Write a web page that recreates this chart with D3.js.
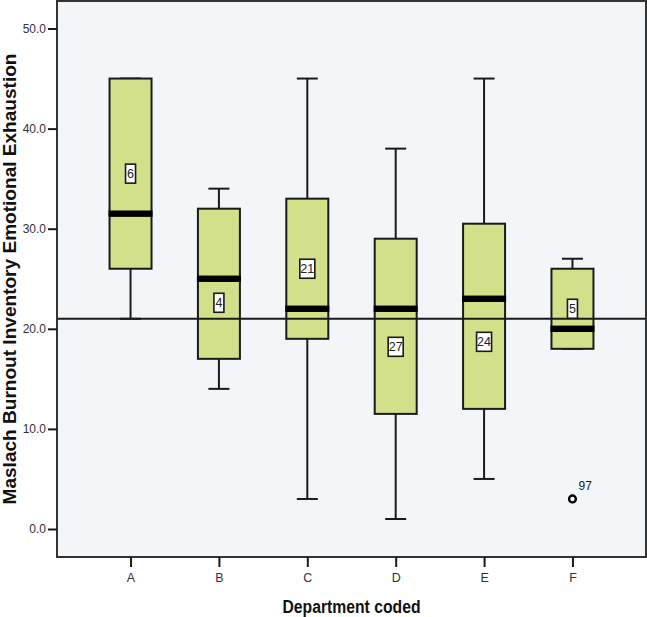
<!DOCTYPE html>
<html>
<head>
<meta charset="utf-8">
<script src="https://cdn.jsdelivr.net/npm/d3@7"></script>
<style>
  html, body { margin: 0; padding: 0; background: #ffffff; }
  svg { display: block; }
</style>
</head>
<body>
<svg id="chart" width="647" height="617"></svg>
<script>
// ---- data ----
const categories   = ["A", "B", "C", "D", "E", "F"];
const whiskerLow   = [21, 14, 3, 1, 5, 18];
const quartile1    = [26, 17, 19, 11.5, 12, 18];
const medians      = [31.5, 25, 22, 22, 23, 20];
const quartile3    = [45, 32, 33, 29, 30.5, 26];
const whiskerHigh  = [45, 34, 45, 38, 45, 27];
const countLabels  = ["6", "4", "21", "27", "24", "5"];
const countLabelAt = [35.5, 22.6, 26, 18.2, 18.7, 22];
const outlierCats   = ["F"];
const outlierValues = [3];
const outlierLabels = ["97"];
const referenceValue = 21;
const yTickValues = [0, 10, 20, 30, 40, 50];
const xTitle = "Department coded";
const yTitle = "Maslach Burnout Inventory Emotional Exhaustion";

(function () {
// ---- layout ----
const svg = d3.select("#chart");
const pLeft = 57, pRight = 646, pTop = 1, pBottom = 557;
const boxFill = "#d3e08a";
const ink = "#1a1a1a";
const font = "Liberation Sans, Arial, sans-serif";

const x = d3.scalePoint().domain(categories).range([pLeft, pRight]).padding(0.832);
const y = d3.scaleLinear().domain([0, 50]).range([529, 28.5]);
const boxW = x.step() * 0.475;
const capW = 21;

// plot background
svg.append("rect")
  .attr("x", pLeft).attr("y", pTop)
  .attr("width", pRight - pLeft).attr("height", pBottom - pTop)
  .attr("fill", "#f2f6f8");

const rows = categories.map((c, i) => ({
  c, lo: whiskerLow[i], q1: quartile1[i], med: medians[i],
  q3: quartile3[i], hi: whiskerHigh[i], n: countLabels[i], at: countLabelAt[i]
}));

const g = svg.append("g");

// whiskers
rows.forEach(r => {
  const cx = x(r.c);
  g.append("line").attr("x1", cx).attr("x2", cx)
    .attr("y1", y(r.q3)).attr("y2", y(r.hi))
    .attr("stroke", ink).attr("stroke-width", 2);
  g.append("line").attr("x1", cx).attr("x2", cx)
    .attr("y1", y(r.q1)).attr("y2", y(r.lo))
    .attr("stroke", ink).attr("stroke-width", 2);
  g.append("line").attr("x1", cx - capW / 2).attr("x2", cx + capW / 2)
    .attr("y1", y(r.hi)).attr("y2", y(r.hi))
    .attr("stroke", ink).attr("stroke-width", 2);
  g.append("line").attr("x1", cx - capW / 2).attr("x2", cx + capW / 2)
    .attr("y1", y(r.lo)).attr("y2", y(r.lo))
    .attr("stroke", ink).attr("stroke-width", 2);
});

// boxes
g.selectAll("rect.box").data(rows).join("rect")
  .attr("class", "box")
  .attr("x", d => x(d.c) - boxW / 2)
  .attr("y", d => y(d.q3))
  .attr("width", boxW)
  .attr("height", d => y(d.q1) - y(d.q3))
  .attr("fill", boxFill)
  .attr("stroke", ink)
  .attr("stroke-width", 2);

// medians
g.selectAll("rect.med").data(rows).join("rect")
  .attr("class", "med")
  .attr("x", d => x(d.c) - boxW / 2 - 1)
  .attr("y", d => y(d.med) - 3.2)
  .attr("width", boxW + 2)
  .attr("height", 6.4)
  .attr("fill", "#000");

// reference line
svg.append("line")
  .attr("x1", pLeft).attr("x2", pRight)
  .attr("y1", y(referenceValue)).attr("y2", y(referenceValue))
  .attr("stroke", ink).attr("stroke-width", 2);

// count labels
rows.forEach(r => {
  const cx = x(r.c), cy = y(r.at);
  const w = r.n.length > 1 ? 15 : 10;
  svg.append("rect")
    .attr("x", cx - w / 2).attr("y", cy - 9.5)
    .attr("width", w).attr("height", 19)
    .attr("fill", "#ffffff").attr("stroke", ink).attr("stroke-width", 1.6);
  svg.append("text")
    .attr("x", cx).attr("y", cy)
    .attr("dy", "0.36em")
    .attr("text-anchor", "middle")
    .attr("font-family", font)
    .attr("font-size", 12.5)
    .attr("fill", "#222")
    .text(r.n);
});

// outliers
outlierCats.forEach((c, i) => {
  const cx = x(c), cy = y(outlierValues[i]);
  svg.append("circle")
    .attr("cx", cx).attr("cy", cy).attr("r", 3.4)
    .attr("fill", "#ffffff").attr("stroke", "#000").attr("stroke-width", 2.4);
  svg.append("text")
    .attr("x", cx + 6).attr("y", cy - 9)
    .attr("font-family", font)
    .attr("font-size", 12)
    .attr("fill", "#222")
    .text(outlierLabels[i]);
});

// frame
svg.append("rect")
  .attr("x", pLeft).attr("y", pTop)
  .attr("width", pRight - pLeft).attr("height", pBottom - pTop)
  .attr("fill", "none").attr("stroke", "#333").attr("stroke-width", 2);

// axes
const yAxis = d3.axisLeft(y).tickValues(yTickValues).tickFormat(d3.format(".1f"))
  .tickSize(9).tickPadding(2);
const yg = svg.append("g").attr("transform", `translate(${pLeft},0)`).call(yAxis);
yg.select(".domain").remove();
yg.selectAll(".tick line").attr("stroke", ink).attr("stroke-width", 2);
yg.selectAll(".tick text")
  .attr("font-family", font)
  .attr("font-size", 12).attr("fill", "#333");

const xAxis = d3.axisBottom(x).tickSize(10).tickPadding(6);
const xg = svg.append("g").attr("transform", `translate(0,${pBottom})`).call(xAxis);
xg.select(".domain").remove();
xg.selectAll(".tick line").attr("stroke", ink).attr("stroke-width", 2);
xg.selectAll(".tick text")
  .attr("font-family", font)
  .attr("font-size", 12.5).attr("fill", "#333");

// titles
svg.append("text")
  .attr("x", (pLeft + pRight) / 2).attr("y", 612.5)
  .attr("text-anchor", "middle")
  .attr("font-family", font)
  .attr("font-weight", "bold")
  .attr("font-size", 18)
  .attr("textLength", 138)
  .attr("lengthAdjust", "spacingAndGlyphs")
  .attr("fill", "#111")
  .text(xTitle);

svg.append("text")
  .attr("transform", `translate(15.5,${(pTop + pBottom) / 2}) rotate(-90)`)
  .attr("text-anchor", "middle")
  .attr("font-family", font)
  .attr("font-weight", "bold")
  .attr("font-size", 18.5)
  .attr("textLength", 451)
  .attr("lengthAdjust", "spacingAndGlyphs")
  .attr("fill", "#111")
  .text(yTitle);
})();
</script>
</body>
</html>
